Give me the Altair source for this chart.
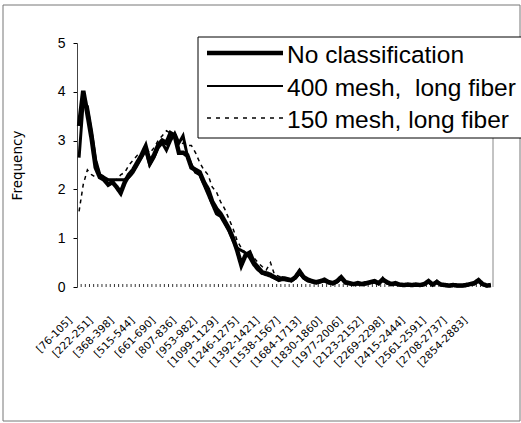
import altair as alt
import pandas as pd

# Category labels shown on the x axis (every fifth fiber-length bin)
bin_labels = ["[76-105]", "[222-251]", "[368-398]", "[515-544]", "[661-690]",
              "[807-836]", "[953-982]", "[1099-1129]", "[1246-1275]", "[1392-1421]",
              "[1538-1567]", "[1684-1713]", "[1830-1860]", "[1977-2006]", "[2123-2152]",
              "[2269-2298]", "[2415-2444]", "[2561-2591]", "[2708-2737]", "[2854-2883]"]

series_names = ["No classification", "400 mesh,\u00a0 long fiber", "150 mesh, long fiber"]

# Frequency (%) per fiber-length bin
no_class = [3.3, 4.02, 3.55, 3.05, 2.45, 2.25, 2.2, 2.1, 2.15, 2.05,
            1.93, 2.15, 2.3, 2.4, 2.55, 2.7, 2.88, 2.55, 2.7, 2.9,
            3.0, 2.95, 3.15, 3.1, 2.75, 2.75, 2.7, 2.45, 2.4, 2.35,
            2.15, 2.0, 1.75, 1.6, 1.5, 1.35, 1.2, 1.0, 0.75, 0.45,
            0.65, 0.7, 0.5, 0.4, 0.3, 0.28, 0.25, 0.2, 0.15, 0.18,
            0.16, 0.14, 0.2, 0.32, 0.2, 0.15, 0.12, 0.1, 0.12, 0.15,
            0.1, 0.08, 0.12, 0.2, 0.1, 0.08, 0.06, 0.08, 0.06, 0.08,
            0.1, 0.12, 0.08, 0.15, 0.1, 0.06, 0.08, 0.05, 0.04, 0.05,
            0.04, 0.05, 0.04, 0.06, 0.12, 0.05, 0.1, 0.05, 0.04, 0.03,
            0.04, 0.03, 0.03, 0.04, 0.06, 0.08, 0.14, 0.06, 0.03, 0.04]

mesh400 = [2.65, 3.8, 3.7, 3.2, 2.6, 2.3, 2.25, 2.2, 2.2, 2.2,
           2.2, 2.2, 2.25, 2.35, 2.5, 2.65, 2.8, 2.5, 2.65, 2.85,
           2.95, 2.8, 3.0, 3.15, 2.95, 3.1, 2.7, 2.5, 2.35, 2.3,
           2.1, 1.9, 1.7, 1.5, 1.45, 1.3, 1.15, 0.95, 0.8, 0.75,
           0.7, 0.6, 0.45, 0.35, 0.28, 0.25, 0.22, 0.18, 0.14, 0.15,
           0.14, 0.12, 0.18, 0.28, 0.18, 0.12, 0.1, 0.08, 0.1, 0.12,
           0.08, 0.06, 0.1, 0.18, 0.08, 0.06, 0.05, 0.06, 0.05, 0.06,
           0.08, 0.1, 0.06, 0.18, 0.08, 0.05, 0.06, 0.04, 0.03, 0.04,
           0.03, 0.04, 0.03, 0.05, 0.1, 0.04, 0.12, 0.04, 0.03, 0.02,
           0.03, 0.02, 0.02, 0.03, 0.05, 0.06, 0.12, 0.05, 0.02, 0.03]

mesh150 = [1.55, 2.1, 2.4, 2.3, 2.25, 2.25, 2.2, 2.2, 2.2, 2.2,
           2.3, 2.35, 2.5, 2.6, 2.7, 2.75, 2.85, 2.75, 2.85, 3.0,
           3.1, 3.2, 3.15, 3.05, 2.9, 2.95, 2.9, 2.9, 2.75, 2.55,
           2.4, 2.3, 2.05, 1.95, 1.75, 1.6, 1.4, 1.2, 0.95, 0.8,
           0.7, 0.72, 0.6, 0.5, 0.42, 0.35, 0.5, 0.25, 0.22, 0.2,
           0.18, 0.15, 0.22, 0.35, 0.22, 0.15, 0.12, 0.1, 0.12, 0.14,
           0.1, 0.08, 0.1, 0.18, 0.1, 0.08, 0.06, 0.07, 0.06, 0.08,
           0.1, 0.14, 0.08, 0.2, 0.1, 0.06, 0.07, 0.05, 0.04, 0.05,
           0.04, 0.05, 0.04, 0.05, 0.14, 0.05, 0.1, 0.05, 0.04, 0.03,
           0.04, 0.03, 0.03, 0.04, 0.05, 0.07, 0.15, 0.06, 0.03, 0.04]

n_bins = len(no_class)
W, H = 416, 244
FONT = "Liberation Sans"
AXFONT = "DejaVu Sans"

rows = []
for name, vals in zip(series_names, [no_class, mesh400, mesh150]):
    for i, v in enumerate(vals):
        rows.append({"series": name, "idx": i, "freq": v})
df = pd.DataFrame(rows)
bins_df = pd.DataFrame({"idx": list(range(1, n_bins))})
labels_df = pd.DataFrame({"label": bin_labels, "k": list(range(len(bin_labels)))})

x_scale = alt.Scale(domain=[0, n_bins], nice=False, zero=False)
y_scale = alt.Scale(domain=[0, 5], nice=False)

lines = alt.Chart(df).transform_calculate(
    xc="datum.idx + 0.5"
).mark_line(color="black", strokeJoin="miter").encode(
    x=alt.X("xc:Q", scale=x_scale,
            axis=alt.Axis(labels=False, ticks=False, tickSize=0, grid=False,
                          domainColor="black", domainWidth=1,
                          title="Fiber length (um)", titleFont=AXFONT, titleFontSize=12,
                          titleFontWeight="normal", titleColor="black",
                          titleX=203, titleY=100, titleAlign="center",
                          titleBaseline="middle")),
    y=alt.Y("freq:Q", scale=y_scale,
            axis=alt.Axis(values=[0, 1, 2, 3, 4, 5], format="d", grid=False,
                          tickSize=4, tickColor="black", labelPadding=8,
                          labelFont=FONT, labelFontSize=14, labelColor="black",
                          domainColor="#444", domainWidth=1,
                          title="Frequency", titleFont=AXFONT, titleFontSize=13.5,
                          titleFontWeight="normal", titleColor="black",
                          titleX=-60, titleY=122, titleAlign="center",
                          titleBaseline="middle")),
    detail="series:N",
    strokeWidth=alt.StrokeWidth("series:N", scale=alt.Scale(domain=series_names, range=[4.5, 1.5, 1.8]), legend=None),
    strokeDash=alt.StrokeDash("series:N", scale=alt.Scale(domain=series_names, range=[[1, 0], [1, 0], [4, 4]]), legend=None),
    order=alt.Order("idx:Q"),
)

# Rotated category labels, one for every fifth bin
x_labels = alt.Chart(labels_df).transform_calculate(
    pos="datum.k * 5 + 0.5"
).mark_text(angle=315, align="right", baseline="middle", font=AXFONT,
            fontSize=10.5, color="black", dx=-6, dy=-6).encode(
    x=alt.X("pos:Q", scale=x_scale, axis=None),
    y=alt.value(H + 32),
    text="label:N",
)

# Small category tick marks standing on the x axis
minor_ticks = alt.Chart(bins_df).mark_rule(color="black", strokeWidth=0.8).encode(
    x=alt.X("idx:Q", scale=x_scale, axis=None),
    y=alt.value(H - 3),
    y2=alt.value(H),
)

# Right edge of the plotting area
right_edge = alt.Chart(bins_df.head(1)).mark_rule(color="#888", strokeWidth=1).encode(
    x=alt.value(W), y=alt.value(0), y2=alt.value(H)
)

# Outer frame around the whole figure
frame = alt.Chart(bins_df.head(1)).mark_rect(fill="transparent", stroke="#777", strokeWidth=1).encode(
    x=alt.value(-74), x2=alt.value(443), y=alt.value(-38), y2=alt.value(378)
)

# Legend box
legend_box = alt.Chart(bins_df.head(1)).mark_rect(fill="white", stroke="black", strokeWidth=1).encode(
    x=alt.value(121), x2=alt.value(445), y=alt.value(-6), y2=alt.value(95)
)

legend_layers = []
legend_styles = [(4.5, [1, 0]), (2.0, [1, 0]), (1.5, [4, 5])]
row_y = [10, 43, 75]
for name, (sw, dash), ry in zip(series_names, legend_styles, row_y):
    one = pd.DataFrame({"series": [name]})
    legend_layers.append(
        alt.Chart(one).mark_rule(color="black", strokeWidth=sw, strokeDash=dash).encode(
            x=alt.value(130), x2=alt.value(206), y=alt.value(ry)
        )
    )
    legend_layers.append(
        alt.Chart(one).mark_text(align="left", baseline="middle", font=FONT,
                                 fontSize=24.5, color="black").encode(
            x=alt.value(210), y=alt.value(ry + 3), text="series:N"
        )
    )

chart = alt.layer(
    frame, right_edge, lines, minor_ticks, x_labels, legend_box, *legend_layers
).properties(
    width=W, height=H,
    padding={"left": 77, "top": 43, "right": 28, "bottom": 136},
    autosize=alt.AutoSizeParams(type="none"),
    background="white",
).configure_view(stroke=None)

chart.save("out.html", embed_options={"renderer": "svg", "actions": False})
